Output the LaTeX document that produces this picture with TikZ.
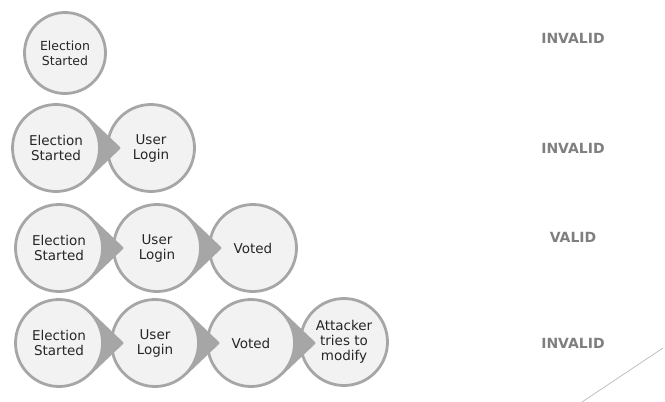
\documentclass[tikz,border=0pt]{standalone}
\usepackage{fontspec}
\setmainfont{DejaVu Sans}
\definecolor{ringgray}{HTML}{A6A6A6}
\definecolor{stagefill}{HTML}{F2F2F2}
\definecolor{verdict}{HTML}{7F7F7F}
\tikzset{
    stage/.style={circle, draw=ringgray, fill=stagefill, line width=2.8pt,
        minimum size=87pt, inner sep=0pt, align=center, text=black!85,
        font=\fontsize{13.5}{15}\selectfont},
    tip/.style={fill=ringgray, draw=ringgray, line width=2.8pt, line join=round},
    verdict/.style={text=verdict, font=\bfseries\fontsize{14}{16}\selectfont}
}
\begin{document}
\begin{tikzpicture}[x=1pt, y=-1pt]
\useasboundingbox (0,0) rectangle (665,402);

% row 1
\node[stage, minimum size=81pt, font=\fontsize{12.5}{15}\selectfont] (A1) at (65,53) {Election\\Started};

% row 2 (drawn right to left, so each tip lies over the next circle)
\node[stage] (B2) at (151,148) {User\\Login};
\path[tip] (56,148) node[stage] (A2) {Election\\Started}
    +(45:43.5) -- +(63,0) -- +(-45:43.5) -- cycle;

% row 3
\node[stage] (C3) at (253,248) {Voted};
\path[tip] (157,248) node[stage] (B3) {User\\Login}
    +(45:43.5) -- +(63,0) -- +(-45:43.5) -- cycle;
\path[tip] (59,248) node[stage] (A3) {Election\\Started}
    +(45:43.5) -- +(63,0) -- +(-45:43.5) -- cycle;

% row 4
\node[stage] (D4) at (344,342) {Attacker\\tries to\\modify};
\path[tip] (251,343) node[stage] (C4) {Voted}
    +(45:43.5) -- +(63,0) -- +(-45:43.5) -- cycle;
\path[tip] (155,343) node[stage] (B4) {User\\Login}
    +(45:43.5) -- +(63,0) -- +(-45:43.5) -- cycle;
\path[tip] (59,343) node[stage] (A4) {Election\\Started}
    +(45:43.5) -- +(63,0) -- +(-45:43.5) -- cycle;

% verdicts
\begin{scope}[every node/.style={verdict}]
    \node (V1) at (573,38) {INVALID};
    \node (V2) at (573,148) {INVALID};
    \node (V3) at (573,237) {VALID};
    \node (V4) at (573,343) {INVALID};
\end{scope}

\draw[black!25, line width=0.8pt] (663,348) -- (582,402);
\end{tikzpicture}
\end{document}
